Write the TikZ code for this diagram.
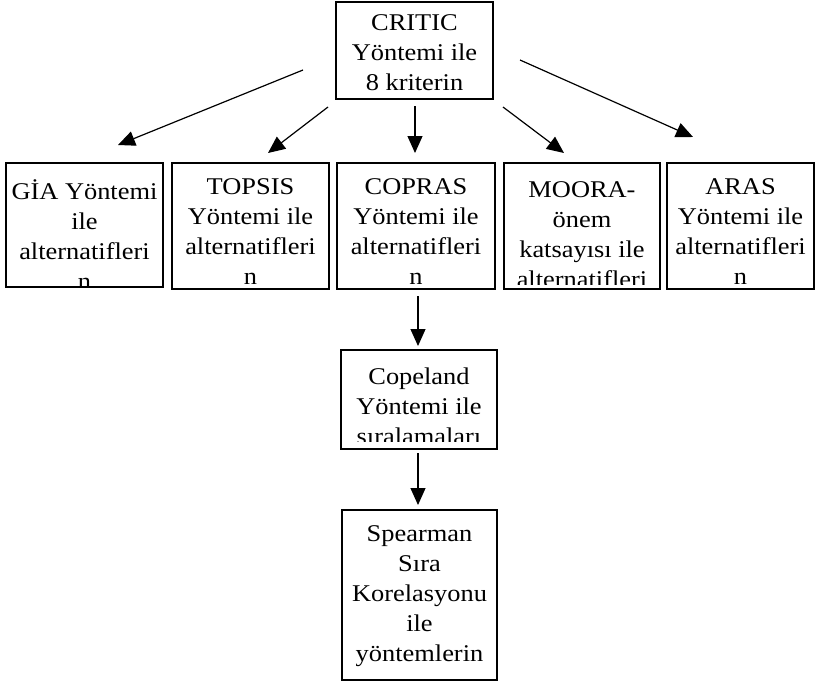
\documentclass[tikz,border=0pt]{standalone}
\usepackage{fontspec}
\setmainfont{Liberation Serif}[FakeStretch=1.1]
\usetikzlibrary{arrows.meta}
\tikzset{
  boxst/.style={draw=black, line width=1.7pt, fill=white, inner sep=0pt, outer sep=0pt},
  txtst/.style={inner sep=0pt, outer sep=0pt, anchor=north, align=center, text=black,
                font=\fontsize{24}{30}\selectfont},
  arr/.style={line width=1.2pt, -{Triangle[length=17pt,width=15pt]}}
}
\newcommand{\firststrut}{\rule{0pt}{24pt}}
\begin{document}
\begin{tikzpicture}[x=1pt,y=-1pt]
\fill[white] (0,0) rectangle (817,683);
\useasboundingbox (0,0) rectangle (817,683);

% boxes
\node[boxst, minimum width=157pt, minimum height=97pt]  (critic)   at (414.5,50.5) {};
\node[boxst, minimum width=157pt, minimum height=124pt] (gia)      at (84.5,225) {};
\node[boxst, minimum width=157pt, minimum height=126pt] (topsis)   at (250.5,226) {};
\node[boxst, minimum width=158pt, minimum height=126pt] (copras)   at (416,226) {};
\node[boxst, minimum width=156pt, minimum height=126pt] (moora)    at (582,226) {};
\node[boxst, minimum width=147pt, minimum height=126pt] (aras)     at (740.5,226) {};
\node[boxst, minimum width=156pt, minimum height=99pt]  (copeland) at (419,399.5) {};
\node[boxst, minimum width=155pt, minimum height=170pt] (spearman) at (419.5,595) {};

% texts (clipped to the box interior like overflowing text boxes)
\node[txtst] (tcritic) at (414.5,6) {\firststrut CRITIC\\Yöntemi ile\\8 kriterin};
\begin{scope}
  \clip (6,163) rectangle (163,285);
  \node[txtst] (tgia) at (84.5,175) {\firststrut GİA Yöntemi\\ile\\alternatifleri\\n};
\end{scope}
\begin{scope}
  \clip (172,163) rectangle (329,286);
  \node[txtst] (ttopsis) at (250.5,170) {\firststrut TOPSIS\\Yöntemi ile\\alternatifleri\\n};
\end{scope}
\begin{scope}
  \clip (337,163) rectangle (495,286);
  \node[txtst] (tcopras) at (416,170) {\firststrut COPRAS\\Yöntemi ile\\alternatifleri\\n};
\end{scope}
\begin{scope}
  \clip (504,163) rectangle (660,284);
  \node[txtst] (tmoora) at (582,173) {\firststrut MOORA-\\önem\\katsayısı ile\\alternatifleri};
\end{scope}
\begin{scope}
  \clip (667,163) rectangle (814,286);
  \node[txtst] (taras) at (740.5,170) {\firststrut ARAS\\Yöntemi ile\\alternatifleri\\n};
\end{scope}
\begin{scope}
  \clip (341,350) rectangle (497,441);
  \node[txtst] (tcopeland) at (419,360) {\firststrut Copeland\\Yöntemi ile\\sıralamaları};
\end{scope}
\node[txtst] (tspearman) at (419.5,517) {\firststrut Spearman\\Sıra\\Korelasyonu\\ile\\yöntemlerin};

% connector end points
\coordinate (c1s) at (303,70);   \coordinate (c1e) at (118,145);
\coordinate (c2s) at (328,107);  \coordinate (c2e) at (268,153);
\coordinate (c3s) at (415,106);  \coordinate (c3e) at (415,153);
\coordinate (c4s) at (503,107);  \coordinate (c4e) at (564,153);
\coordinate (c5s) at (520,60);   \coordinate (c5e) at (693,137);
\coordinate (c6s) at (418,296);  \coordinate (c6e) at (418,346);
\coordinate (c7s) at (418,453);  \coordinate (c7e) at (418,505);

\draw[arr] (c1s) -- (c1e);
\draw[arr] (c2s) -- (c2e);
\draw[arr] (c3s) -- (c3e);
\draw[arr] (c4s) -- (c4e);
\draw[arr] (c5s) -- (c5e);
\draw[arr] (c6s) -- (c6e);
\draw[arr] (c7s) -- (c7e);
\end{tikzpicture}
\end{document}
